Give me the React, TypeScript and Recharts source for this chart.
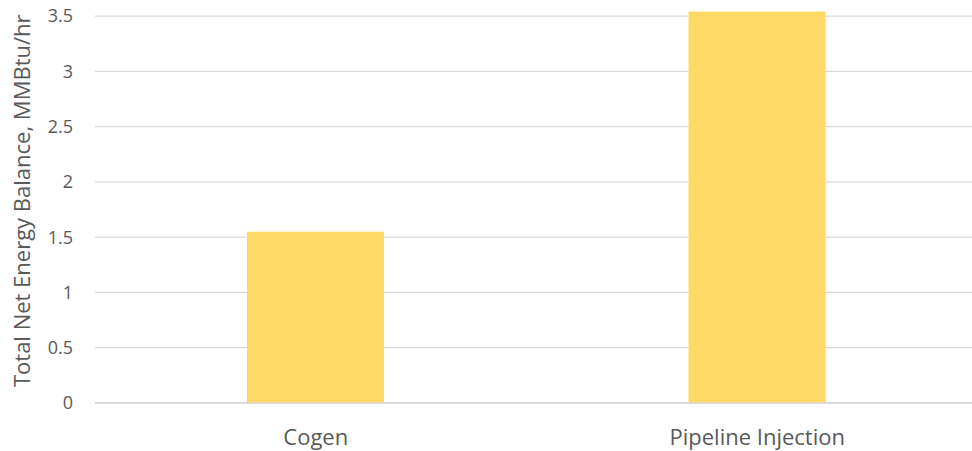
import React from "react";
import { BarChart, Bar, XAxis, YAxis, CartesianGrid } from "recharts";

const categories = ["Cogen", "Pipeline Injection"];
const energyBalance = [1.55, 3.54];
const yTicks = [0, 0.5, 1, 1.5, 2, 2.5, 3, 3.5];

const data = categories.map((name, i) => ({ name, value: energyBalance[i] }));

const FONT = "'Open Sans', sans-serif";

export default function App() {
  return (
    <div style={{ position: "absolute", left: 0, top: 0, width: 972, height: 451, overflow: "hidden", background: "#fff" }}>
      <BarChart
        width={978}
        height={451}
        data={data}
        margin={{ top: 10.5, right: 0, bottom: 0, left: 0 }}
        style={{ fontFamily: FONT }}
      >
        <CartesianGrid vertical={false} syncWithTicks={true} stroke="#d9d9d9" strokeWidth={1.3} />
        <XAxis
          dataKey="name"
          height={48}
          axisLine={{ stroke: "#d9d9d9", strokeWidth: 1.3 }}
          tickLine={false}
          tick={{ fill: "#595959", fontSize: 22, fontFamily: FONT }}
          tickMargin={20}
        />
        <YAxis
          width={95}
          domain={[0, 3.55]}
          ticks={yTicks}
          axisLine={false}
          tickLine={false}
          tickMargin={16}
          tick={{ fill: "#595959", fontSize: 18, fontFamily: FONT }}
          label={{
            value: "Total Net Energy Balance, MMBtu/hr",
            angle: -90,
            position: "insideLeft",
            dx: 17,
            dy: -6,
            style: { textAnchor: "middle", fill: "#595959", fontSize: 22, fontFamily: FONT },
          }}
        />
        <Bar dataKey="value" fill="#FED966" barSize={137} isAnimationActive={false} />
      </BarChart>
    </div>
  );
}
